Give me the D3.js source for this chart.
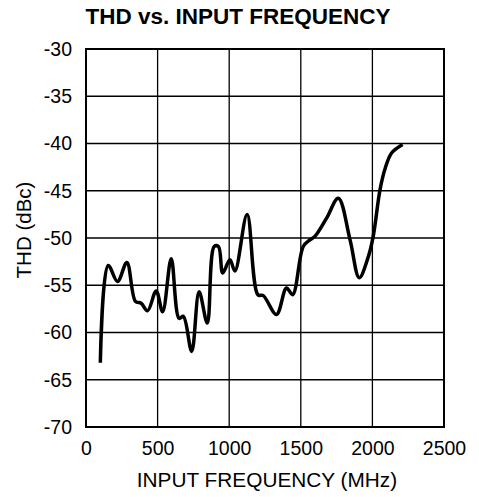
<!DOCTYPE html>
<html><head><meta charset="utf-8">
<script src="https://cdn.jsdelivr.net/npm/d3@7"></script>
<style>body{margin:0;background:#fff}svg{display:block}</style>
</head><body>
<script>
const title = "THD vs. INPUT FREQUENCY";
const xLabel = "INPUT FREQUENCY (MHz)";
const yLabel = "THD (dBc)";
const xTicks = [0, 500, 1000, 1500, 2000, 2500];
const yTicks = [-30, -35, -40, -45, -50, -55, -60, -65, -70];
const freq = [100,155,220,285,345,385,430,490,535,595,650,680,738,790,847,895,925,955,1005,1040,1125,1200,1238,1330,1400,1443,1517,1564,1600,1680,1762,1844,1908,1971,2006,2053,2090,2134,2211];
const thd  = [-63.2,-52.9,-54.6,-52.6,-56.7,-56.9,-57.7,-55.6,-57.8,-52.2,-58.5,-58.3,-62.0,-55.7,-59.0,-50.9,-50.9,-53.7,-52.3,-53.5,-47.5,-56.0,-56.1,-58.1,-55.3,-56.0,-50.9,-50.2,-49.8,-47.9,-45.8,-50.2,-54.2,-52.0,-49.8,-44.9,-42.6,-41.0,-40.1];

const W = 479, H = 497;
const m = {left: 86, right: 35, top: 49, bottom: 70};
const svg = d3.select("body").append("svg").attr("width", W).attr("height", H);
const x = d3.scaleLinear().domain([0, 2500]).range([m.left, W - m.right]);
const y = d3.scaleLinear().domain([-70, -30]).range([H - m.bottom, m.top]);
const font = "'Liberation Sans', Arial, Helvetica, sans-serif";

// grid
svg.append("g").selectAll("line").data(xTicks.slice(1, -1)).join("line")
  .attr("x1", d => x(d)).attr("x2", d => x(d)).attr("y1", y(-30)).attr("y2", y(-70))
  .attr("stroke", "#000").attr("stroke-width", 1.3);
svg.append("g").selectAll("line").data(yTicks.slice(1, -1)).join("line")
  .attr("y1", d => y(d)).attr("y2", d => y(d)).attr("x1", x(0)).attr("x2", x(2500))
  .attr("stroke", "#000").attr("stroke-width", 1.3);
svg.append("rect").attr("x", x(0)).attr("y", y(-30)).attr("width", x(2500) - x(0)).attr("height", y(-70) - y(-30))
  .attr("fill", "none").attr("stroke", "#000").attr("stroke-width", 2);

// axes labels via d3 axes
const xAxis = svg.append("g").attr("transform", `translate(0,${y(-70)})`)
  .call(d3.axisBottom(x).tickValues(xTicks).tickSize(0).tickPadding(14).tickFormat(d3.format("d")));
xAxis.select(".domain").remove();
xAxis.selectAll("text").attr("font-family", font).attr("font-size", 19.5).attr("fill", "#000");
const yAxis = svg.append("g").attr("transform", `translate(${x(0)},0)`)
  .call(d3.axisLeft(y).tickValues(yTicks).tickSize(0).tickPadding(14).tickFormat(d => String(d)));
yAxis.select(".domain").remove();
yAxis.selectAll("text").attr("font-family", font).attr("font-size", 19.5).attr("fill", "#000");

// line
svg.append("path").datum(freq.map((f, i) => [f, thd[i]]))
  .attr("fill", "none").attr("stroke", "#000").attr("stroke-width", 3.5)
  .attr("stroke-linejoin", "round").attr("stroke-linecap", "butt")
  .attr("d", d3.line().x(d => x(d[0])).y(d => y(d[1])).curve(d3.curveCatmullRom.alpha(0.5)));

// titles
svg.append("text").attr("x", 238).attr("y", 24).attr("text-anchor", "middle")
  .attr("font-family", font).attr("font-weight", "bold").attr("font-size", 22.5).text(title);
svg.append("text").attr("x", 267).attr("y", 487).attr("text-anchor", "middle")
  .attr("font-family", font).attr("font-size", 20.8).text(xLabel);
svg.append("text").attr("transform", `translate(31,230) rotate(-90)`).attr("text-anchor", "middle")
  .attr("font-family", font).attr("font-size", 20.5).text(yLabel);
</script>
</body></html>
